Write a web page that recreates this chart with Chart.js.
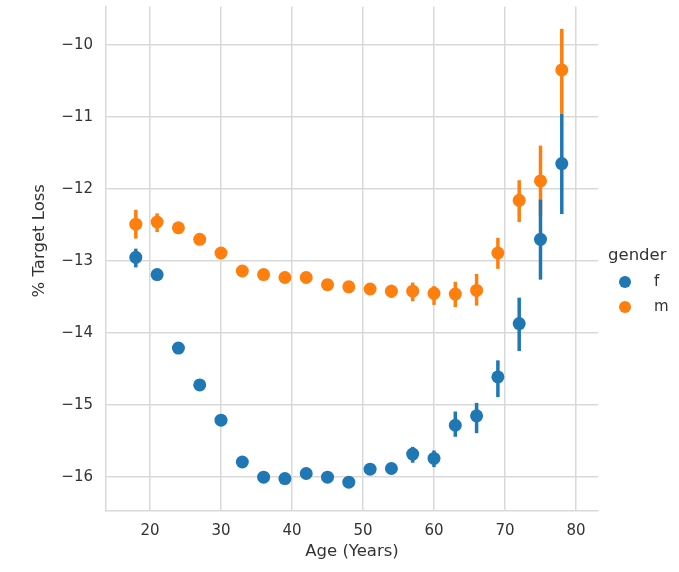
<!DOCTYPE html>
<html><head><meta charset="utf-8">
<script src="https://cdn.jsdelivr.net/npm/chart.js@4.4.1/dist/chart.umd.min.js"></script>
<style>html,body{margin:0;padding:0;background:#fff;}#wrap{width:679px;height:572px;}</style>
</head><body><div id="wrap"><canvas id="c" width="679" height="572"></canvas></div>
<script>
// ---- data ----
const ages = [18,21,24,27,30,33,36,39,42,45,48,51,54,57,60,63,66,69,72,75,78];
const fMean = [-12.95,-13.19,-14.21,-14.72,-15.21,-15.79,-16.00,-16.02,-15.95,-16.00,-16.07,-15.89,-15.88,-15.68,-15.74,-15.28,-15.15,-14.61,-13.87,-12.70,-11.65];
const fLow  = [-13.09,-13.25,-14.26,-14.77,-15.26,-15.84,-16.05,-16.07,-16.01,-16.05,-16.13,-15.95,-15.94,-15.80,-15.86,-15.44,-15.39,-14.89,-14.25,-13.26,-12.35];
const fHigh = [-12.83,-13.13,-14.16,-14.67,-15.16,-15.74,-15.95,-15.97,-15.89,-15.95,-16.01,-15.83,-15.82,-15.58,-15.63,-15.09,-14.97,-14.38,-13.51,-12.15,-10.96];
const mMean = [-12.49,-12.46,-12.54,-12.70,-12.89,-13.14,-13.19,-13.23,-13.23,-13.33,-13.36,-13.39,-13.42,-13.42,-13.45,-13.46,-13.41,-12.89,-12.16,-11.89,-10.35];
const mLow  = [-12.69,-12.60,-12.62,-12.75,-12.95,-13.19,-13.24,-13.28,-13.28,-13.39,-13.43,-13.46,-13.51,-13.56,-13.61,-13.64,-13.62,-13.11,-12.46,-12.38,-10.96];
const mHigh = [-12.29,-12.34,-12.46,-12.65,-12.83,-13.09,-13.14,-13.18,-13.17,-13.27,-13.29,-13.32,-13.33,-13.30,-13.35,-13.29,-13.18,-12.68,-11.88,-11.40,-9.78];
const seriesNames = ['f','m'];
const legendTitle = 'gender';
const xTicks = [20,30,40,50,60,70,80];
const yTicks = [-16,-15,-14,-13,-12,-11,-10];
const xTitle = 'Age (Years)';
const yTitle = '% Target Loss';

// ---- styles ----
const FONT = "'DejaVu Sans', sans-serif";
const TEXT = '#333333';
const GRID = '#d9d9d9';
const colors = ['#1f77b4', '#ff7f0e'];

const errorBars = {
  id: 'errorBars',
  beforeDatasetDraw(chart, args) {
    const ds = chart.data.datasets[args.index];
    const xs = chart.scales.x, ys = chart.scales.y, ctx = chart.ctx;
    ctx.save();
    ctx.strokeStyle = ds.backgroundColor;
    ctx.lineWidth = 3.5;
    ctx.lineCap = 'butt';
    ds.errLow.forEach((lo, i) => {
      const px = xs.getPixelForValue(ds.data[i].x);
      ctx.beginPath();
      ctx.moveTo(px, ys.getPixelForValue(lo));
      ctx.lineTo(px, ys.getPixelForValue(ds.errHigh[i]));
      ctx.stroke();
    });
    ctx.restore();
  }
};

const extras = {
  id: 'extras',
  afterDraw(chart) {
    const ctx = chart.ctx;
    const ca = chart.chartArea;
    ctx.save();
    ctx.fillStyle = TEXT;
    ctx.font = `16.5px ${FONT}`;
    ctx.textAlign = 'center';
    ctx.textBaseline = 'middle';
    ctx.translate(40, (ca.top + ca.bottom) / 2 - 18);
    ctx.rotate(-Math.PI / 2);
    ctx.fillText(yTitle, 0, 0);
    ctx.restore();
    ctx.save();
    ctx.fillStyle = TEXT;
    ctx.font = `16.5px ${FONT}`;
    ctx.textAlign = 'left';
    ctx.textBaseline = 'middle';
    ctx.fillText(legendTitle, ca.right + 10, 256);
    ctx.font = `15px ${FONT}`;
    seriesNames.forEach((name, i) => {
      const cy = 282 + i * 25;
      ctx.fillStyle = colors[i];
      ctx.beginPath();
      ctx.arc(ca.right + 27, cy, 6, 0, Math.PI * 2);
      ctx.fill();
      ctx.fillStyle = TEXT;
      ctx.fillText(name, ca.right + 56, cy);
    });
    ctx.restore();
  }
};

const mk = (means, lows, highs, i) => ({
  label: seriesNames[i],
  data: ages.map((a, k) => ({x: a, y: means[k]})),
  errLow: lows, errHigh: highs,
  backgroundColor: colors[i],
  borderColor: colors[i],
  borderWidth: 0,
  pointRadius: 6.5,
  pointHoverRadius: 6.5,
  showLine: false
});

const noPad = s => { s.paddingTop = 0; s.paddingBottom = 0; s.paddingLeft = 0; s.paddingRight = 0; };

new Chart(document.getElementById('c'), {
  type: 'scatter',
  data: { datasets: [mk(fMean, fLow, fHigh, 0), mk(mMean, mLow, mHigh, 1)] },
  plugins: [errorBars, extras],
  options: {
    responsive: false,
    devicePixelRatio: 1,
    animation: false,
    layout: { padding: { top: 6, right: 81, left: 0, bottom: 0 } },
    plugins: { legend: { display: false }, tooltip: { enabled: false } },
    scales: {
      x: {
        type: 'linear', min: 13.8, max: 83.1,
        afterBuildTicks: s => { s.ticks = xTicks.map(v => ({value: v})); },
        afterFit: s => { s.height = 61; noPad(s); },
        grid: { color: GRID, lineWidth: 1.5, drawTicks: false },
        border: { color: GRID, width: 1.5 },
        ticks: { color: TEXT, font: { family: FONT, size: 15 }, padding: 11,
                 callback: v => v < 0 ? '\u2212' + Math.abs(v) : String(v) },
        title: { display: true, text: xTitle, color: TEXT, font: { family: FONT, size: 16.5 }, padding: { top: 0, bottom: 10 } }
      },
      y: {
        type: 'linear', min: -16.47, max: -9.47,
        afterBuildTicks: s => { s.ticks = yTicks.map(v => ({value: v})); },
        afterFit: s => { s.width = 106; noPad(s); },
        grid: { color: GRID, lineWidth: 1.5, drawTicks: false },
        border: { color: GRID, width: 1.5 },
        ticks: { color: TEXT, font: { family: FONT, size: 15 }, padding: 13,
                 callback: v => v < 0 ? '\u2212' + Math.abs(v) : String(v) },
        title: { display: false }
      }
    }
  }
});
</script></body></html>
